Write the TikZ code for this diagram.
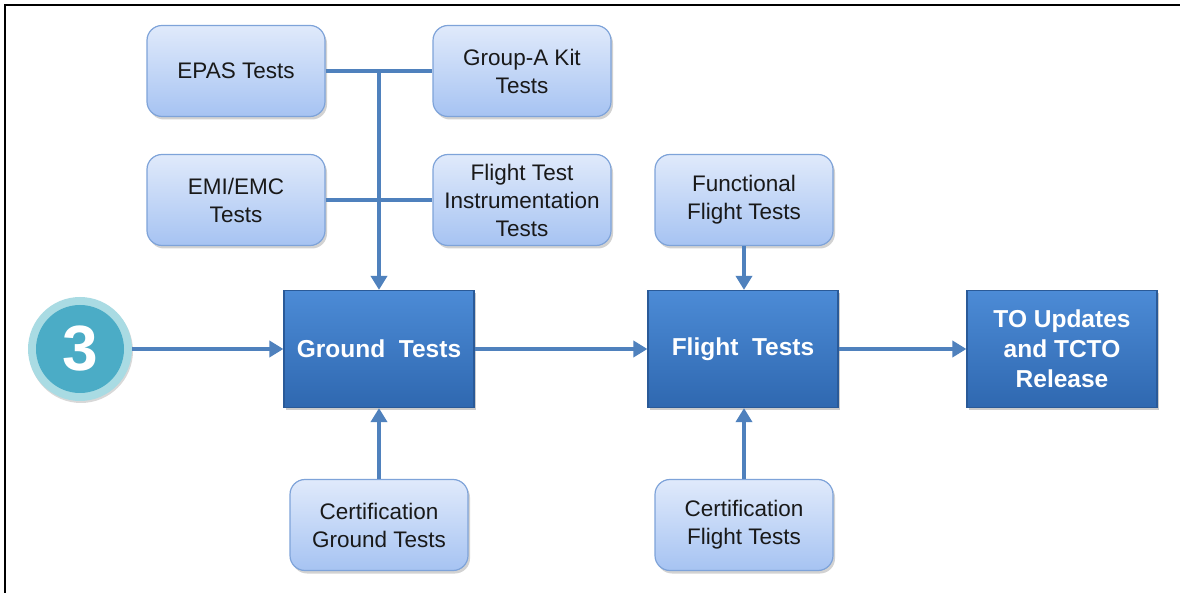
\documentclass[tikz,border=0pt]{standalone}
\usepackage{fontspec}
\setmainfont{Liberation Sans}
\usetikzlibrary{arrows.meta,shadows}
\definecolor{linec}{HTML}{4F81BD}
\definecolor{lighttop}{HTML}{E0EAFB}
\definecolor{lightbot}{HTML}{A6C3F2}
\definecolor{lightdraw}{HTML}{7EA3D9}
\definecolor{darktop}{HTML}{4C8BD6}
\definecolor{darkbot}{HTML}{2F68B0}
\definecolor{darkdraw}{HTML}{2A5A98}
\definecolor{ringc}{HTML}{A9DBE3}
\definecolor{aquac}{HTML}{4BACC6}
\tikzset{
  lightbox/.style={draw=lightdraw, line width=1.2pt, rounded corners=15pt,
    top color=lighttop, bottom color=lightbot, minimum width=178pt, minimum height=91pt,
    align=center, font=\fontsize{22.5}{28}\selectfont, text=black!90,
    drop shadow={shadow xshift=2pt, shadow yshift=-3pt, opacity=0.35}},
  darkbox/.style={draw=darkdraw, line width=1.2pt,
    top color=darktop, bottom color=darkbot, minimum width=190pt, minimum height=117pt,
    align=center, font=\fontsize{24.5}{30}\selectfont\bfseries, text=white,
    drop shadow={shadow xshift=2pt, shadow yshift=-3pt, opacity=0.4}},
  conn/.style={draw=linec, line width=4.5pt},
  arr/.style={conn, -{Triangle[length=14pt,width=16pt]}},
}
\begin{document}
\begin{tikzpicture}[x=1pt,y=-1pt]
\useasboundingbox (0,0) rectangle (1184,593);
\fill[white] (0,0) rectangle (1184,593);
\draw[line width=2.5pt] (5,593) -- (5,5) -- (1180,5);

\node[lightbox] (epas) at (236,71) {EPAS Tests};
\node[lightbox] (grpa) at (522,71) {Group-A Kit\\Tests};
\node[lightbox] (emi) at (236,200) {EMI/EMC\\Tests};
\node[lightbox] (fti) at (522,200) {Flight Test\\Instrumentation\\Tests};
\node[lightbox] (func) at (744,200) {Functional\\Flight Tests};
\node[lightbox] (certg) at (379,525) {Certification\\Ground Tests};
\node[lightbox] (certf) at (744,525) {Certification\\Flight Tests};

\node[darkbox] (ground) at (379,349) {Ground\ \ Tests};
\node[darkbox] (flight) at (743,349) {Flight\ \ Tests};
\node[darkbox] (to) at (1062,349) {TO Updates\\and TCTO\\Release};

\node[circle, fill=ringc, minimum size=104pt, inner sep=0pt,
  drop shadow={shadow xshift=1pt, shadow yshift=-2pt, opacity=0.3}] (three) at (80,349) {};
\node[circle, fill=aquac, minimum size=88pt, inner sep=0pt, text=white,
  font=\fontsize{64}{64}\selectfont\bfseries] (threein) at (three.center) {3};

\draw[conn] (epas.east) -- (grpa.west);
\draw[conn] (emi.east) -- (fti.west);
\draw[arr] (ground.north |- epas.east) -- (ground.north);
\draw[arr] (three.east) -- (ground.west);
\draw[arr] (ground.east) -- (flight.west);
\draw[arr] (flight.east) -- (to.west);
\draw[arr] (func.south) -- (flight.north -| func.south);
\draw[arr] (certg.north) -- (ground.south);
\draw[arr] (certf.north) -- (flight.south -| certf.north);
\end{tikzpicture}
\end{document}
